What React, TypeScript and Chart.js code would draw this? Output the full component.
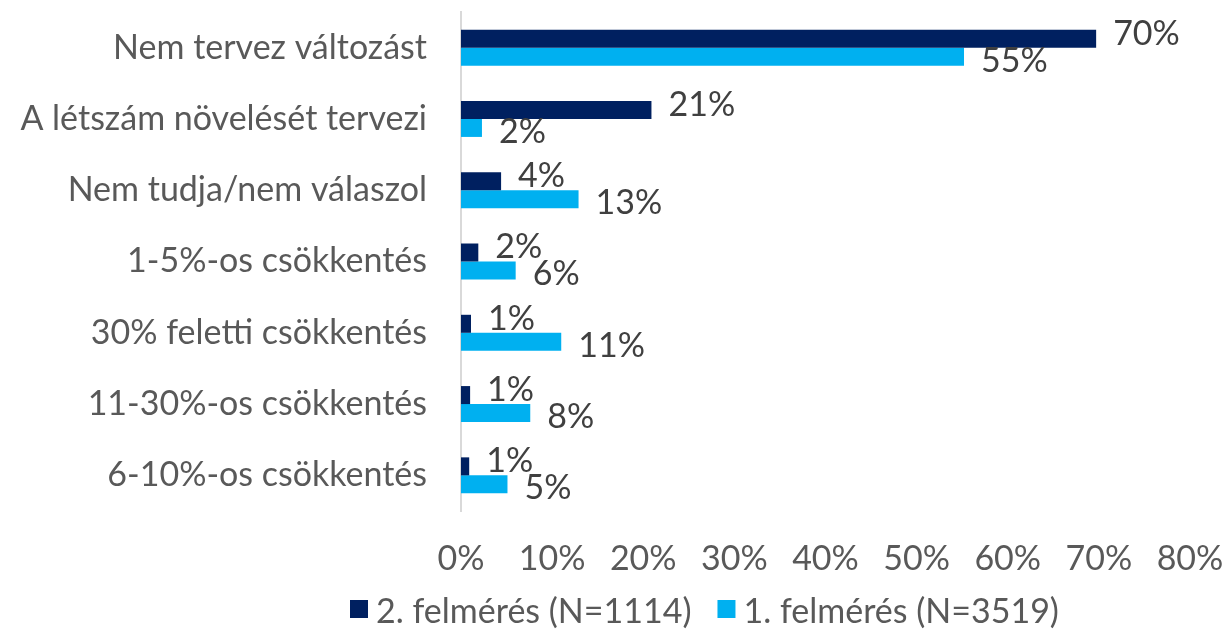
import React, { useEffect, useRef } from "react";
import { Chart, registerables } from "chart.js";

Chart.register(...registerables);

const categories = [
  "Nem tervez változást",
  "A létszám növelését tervezi",
  "Nem tudja/nem válaszol",
  "1-5%-os csökkentés",
  "30% feletti csökkentés",
  "11-30%-os csökkentés",
  "6-10%-os csökkentés",
];
const series2Label = "2. felmérés (N=1114)";
const series1Label = "1. felmérés (N=3519)";
const series2Values = [69.7, 20.9, 4.4, 1.9, 1.1, 1.0, 0.9];
const series1Values = [55.2, 2.3, 12.9, 6.0, 11.0, 7.6, 5.1];
const xTicks = [0, 10, 20, 30, 40, 50, 60, 70, 80];

const FONT = "Lato, 'Open Sans', sans-serif";
const FS = 34;
const DARK = "#002060";
const LIGHT = "#00B0F0";

const labelPlugin = {
  id: "barValueLabels",
  afterDatasetsDraw(chart: any) {
    const ctx = chart.ctx;
    ctx.save();
    ctx.font = `${FS}px ${FONT}`;
    ctx.fillStyle = "#404040";
    ctx.textAlign = "left";
    ctx.textBaseline = "middle";
    chart.data.datasets.forEach((ds: any, di: number) => {
      const meta = chart.getDatasetMeta(di);
      meta.data.forEach((el: any, i: number) => {
        const v = ds.data[i];
        const dy = di === 0 ? -5 : 4;
        ctx.fillText(`${Math.round(v)}%`, el.x + 17, el.y + dy);
      });
    });
    ctx.restore();
  },
};

const legendPlugin = {
  id: "customLegend",
  afterDraw(chart: any) {
    const ctx = chart.ctx;
    ctx.save();
    ctx.font = `${FS}px ${FONT}`;
    ctx.textBaseline = "middle";
    ctx.textAlign = "left";
    let x = 350;
    const yBox = 600;
    const box = 18;
    chart.data.datasets.forEach((ds: any) => {
      ctx.fillStyle = ds.backgroundColor;
      ctx.fillRect(x, yBox, box, box);
      ctx.fillStyle = "#595959";
      ctx.fillText(ds.label, x + box + 8, yBox + box / 2 + 3);
      x += box + 8 + ctx.measureText(ds.label).width + 26;
    });
    ctx.restore();
  },
};

export default function App() {
  const ref = useRef<HTMLCanvasElement>(null);
  useEffect(() => {
    document.body.style.margin = "0";
    const chart = new Chart(ref.current!, {
      type: "bar",
      data: {
        labels: categories,
        datasets: [
          {
            label: series2Label,
            data: series2Values,
            backgroundColor: DARK,
            borderWidth: 0,
          },
          {
            label: series1Label,
            data: series1Values,
            backgroundColor: LIGHT,
            borderWidth: 0,
          },
        ],
      },
      options: {
        indexAxis: "y",
        animation: false,
        responsive: false,
        maintainAspectRatio: false,
        datasets: {
          bar: { categoryPercentage: 0.505, barPercentage: 1.0 },
        },
        layout: { padding: { top: 12, right: 38, left: 0, bottom: 0 } },
        scales: {
          x: {
            min: 0,
            max: 80,
            afterBuildTicks(scale: any) {
              scale.ticks = xTicks.map((v) => ({ value: v }));
            },
            afterFit(scale: any) {
              scale.height = 124;
              scale.paddingLeft = 0;
              scale.paddingRight = 0;
            },
            grid: { display: false, drawTicks: false },
            border: { display: false },
            ticks: {
              padding: 28,
              color: "#595959",
              font: { family: FONT, size: FS },
              callback: (v: any) => `${v}%`,
            },
          },
          y: {
            afterFit(scale: any) {
              scale.width = 461;
              scale.paddingTop = 0;
              scale.paddingBottom = 0;
            },
            grid: { display: false, drawTicks: false },
            border: { display: true, color: "#D9D9D9", width: 2 },
            ticks: {
              padding: 34,
              color: "#595959",
              font: { family: FONT, size: FS },
            },
          },
        },
        plugins: {
          legend: { display: false },
          tooltip: { enabled: false },
        },
      },
      plugins: [labelPlugin, legendPlugin],
    });
    return () => chart.destroy();
  }, []);
  return (
    <div style={{ width: 1228, height: 635 }}>
      <canvas ref={ref} width={1228} height={635} style={{ display: "block" }} />
    </div>
  );
}
